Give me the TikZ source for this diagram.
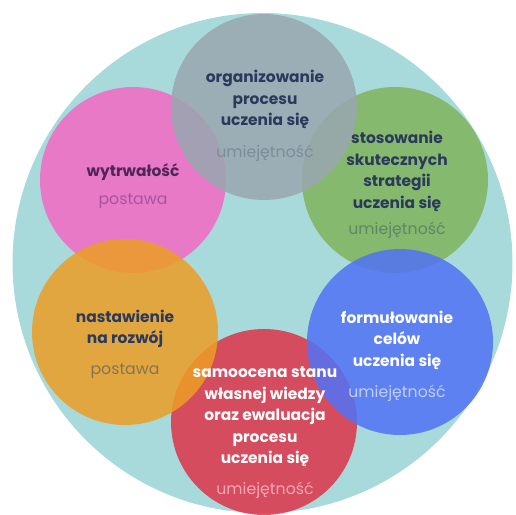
\documentclass[tikz,border=0pt]{standalone}
\usepackage{fontspec}
\setmainfont{Poppins}
\usepackage{tikz}
\usetikzlibrary{shapes,arrows}

\tikzset{
  head/.style={anchor=center,inner sep=0.75pt,align=center,font=\fontsize{11.6}{16.2}\selectfont\bfseries},
  kind/.style={anchor=center,inner sep=0.75pt,font=\fontsize{11.8}{14}\selectfont}
}

\begin{document}
\begin{tikzpicture}[x=0.75pt,y=0.75pt,yscale=-1,xscale=1]
\useasboundingbox (0,0) rectangle (515,515);

%Shape: Circle [id:background]
\draw [draw=none,fill={rgb, 255:red, 168; green, 218; blue, 220 }] (262.5,263) circle (250) ;
%Shape: Circle [id:pink]
\draw [draw=none,fill={rgb, 255:red, 244; green, 105; blue, 196 },fill opacity=0.85] (133,180) circle (93) ;
%Shape: Circle [id:green]
\draw [draw=none,fill={rgb, 255:red, 128; green, 180; blue, 91 },fill opacity=0.85] (395,180) circle (93) ;
%Shape: Circle [id:gray]
\draw [draw=none,fill={rgb, 255:red, 153; green, 167; blue, 176 },fill opacity=0.85] (264,107) circle (93) ;
%Shape: Circle [id:red]
\draw [draw=none,fill={rgb, 255:red, 220; green, 52; blue, 73 },fill opacity=0.85] (264,422) circle (93) ;
%Shape: Circle [id:orange]
\draw [draw=none,fill={rgb, 255:red, 236; green, 158; blue, 37 },fill opacity=0.85] (125,332) circle (93) ;
%Shape: Circle [id:blue]
\draw [draw=none,fill={rgb, 255:red, 82; green, 114; blue, 246 },fill opacity=0.85] (400,342) circle (93) ;

% Text Node
\draw (265,99.5) node [head,text={rgb, 255:red, 43; green, 58; blue, 92 }] (org) {organizowanie\\procesu\\uczenia się};
% Text Node
\draw (265,153) node [kind,text={rgb, 255:red, 125; green, 140; blue, 150 }] (orgk) {umiejętność};
% Text Node
\draw (133,172) node [head,text={rgb, 255:red, 80; green, 38; blue, 88 }] (wyt) {wytrwałość};
% Text Node
\draw (133,201) node [kind,text={rgb, 255:red, 165; green, 85; blue, 160 }] (wytk) {postawa};
% Text Node
\draw (397,171.5) node [head,text={rgb, 255:red, 43; green, 58; blue, 92 }] (sto) {stosowanie\\skutecznych\\strategii\\uczenia się};
% Text Node
\draw (397,230) node [kind,text={rgb, 255:red, 95; green, 135; blue, 100 }] (stok) {umiejętność};
% Text Node
\draw (125,329) node [head,text={rgb, 255:red, 43; green, 58; blue, 92 }] (nas) {nastawienie\\na rozwój};
% Text Node
\draw (125,371) node [kind,text={rgb, 255:red, 135; green, 115; blue, 80 }] (nask) {postawa};
% Text Node
\draw (397,340) node [head,text=white] (for) {formułowanie\\celów\\uczenia się};
% Text Node
\draw (397,393) node [kind,text={rgb, 255:red, 190; green, 205; blue, 250 }] (fork) {umiejętność};
% Text Node
\draw (265,417) node [head,text=white] (sam) {samoocena stanu\\własnej wiedzy\\oraz ewaluacja\\procesu\\uczenia się};
% Text Node
\draw (265,490) node [kind,text={rgb, 255:red, 245; green, 165; blue, 180 }] (samk) {umiejętność};

\end{tikzpicture}
\end{document}
